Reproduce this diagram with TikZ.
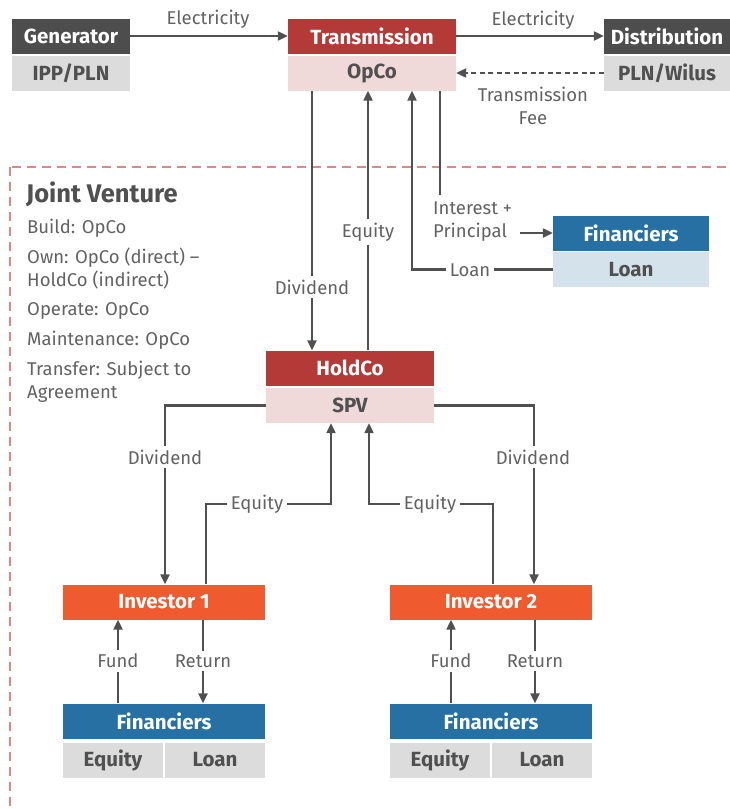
\documentclass[tikz,border=0pt]{standalone}
\usepackage{fontspec}
\setmainfont{Fira Sans}
\usetikzlibrary{arrows.meta,calc}

\definecolor{darkbox}{HTML}{4D4D4D}
\definecolor{lightbox}{HTML}{DCDCDC}
\definecolor{redbox}{HTML}{B43A38}
\definecolor{pinkbox}{HTML}{F0D9D9}
\definecolor{bluebox}{HTML}{2670A4}
\definecolor{paleblue}{HTML}{D4E2EC}
\definecolor{orangebox}{HTML}{EF5A2E}
\definecolor{ink}{HTML}{505050}
\definecolor{labelink}{HTML}{626262}
\definecolor{jvdash}{HTML}{D98A87}

\tikzset{
  box/.style={rectangle, inner sep=0pt, minimum height=35pt,
    font=\bfseries\fontsize{20.5}{22}\selectfont},
  hdr/.style={box, text=white},
  sub/.style={box, text=ink},
  lbl/.style={font=\fontsize{18.5}{23}\selectfont, text=labelink,
    fill=white, inner sep=3.5pt},
  freelbl/.style={font=\fontsize{18.5}{23}\selectfont, text=labelink,
    inner sep=0pt},
  link/.style={draw=ink, line width=2.2pt},
  flow/.style={link, -{Triangle[length=10pt,width=9pt]}},
}

\begin{document}
\begin{tikzpicture}[x=1pt,y=-1pt]
\useasboundingbox (0,0) rectangle (730,809);
\clip (0,0) rectangle (730,809);

% joint venture frame
\draw[jvdash, line width=1.3pt, dash pattern=on 9pt off 6pt] (10,167) rectangle (760,840);

% top row
\node[hdr, fill=darkbox, minimum width=118pt] (gen) at (71,36) {Generator};
\node[sub, fill=lightbox, minimum width=118pt] (genSub) at (71,73) {IPP/PLN};
\node[hdr, fill=redbox, minimum width=168pt] (trans) at (372,36) {Transmission};
\node[sub, fill=pinkbox, minimum width=168pt] (opco) at (372,73) {OpCo};
\node[hdr, fill=darkbox, minimum width=126pt] (dist) at (667,36) {Distribution};
\node[sub, fill=lightbox, minimum width=126pt] (distSub) at (667,73) {PLN/Wilus};

% lender to the operating company
\node[hdr, fill=bluebox, minimum width=156pt] (finR) at (631,233) {Financiers};
\node[sub, fill=paleblue, minimum width=156pt] (loanR) at (631,269.5) {Loan};

% holding company
\node[hdr, fill=redbox, minimum width=168pt] (holdco) at (350,368) {HoldCo};
\node[sub, fill=pinkbox, minimum width=168pt] (spv) at (350,405.5) {SPV};

% investors and their financiers
\node[hdr, fill=orangebox, minimum width=202pt] (inv1) at (164,602) {Investor 1};
\node[hdr, fill=bluebox, minimum width=202pt] (fin1) at (164,721) {Financiers};
\node[sub, fill=lightbox, minimum width=100pt] (eq1) at (113,760) {Equity};
\node[sub, fill=lightbox, minimum width=100pt] (loan1) at (215,760) {Loan};

\node[hdr, fill=orangebox, minimum width=202pt] (inv2) at (491,602) {Investor 2};
\node[hdr, fill=bluebox, minimum width=202pt] (fin2) at (491,721) {Financiers};
\node[sub, fill=lightbox, minimum width=100pt] (eq2) at (440,760) {Equity};
\node[sub, fill=lightbox, minimum width=100pt] (loan2) at (542,760) {Loan};

% joint venture notes
\node[anchor=west, inner sep=0pt, text=ink,
  font=\bfseries\fontsize{25.5}{28}\selectfont] (jvtitle) at (26,194) {Joint Venture};
\node[anchor=north west, inner sep=0pt, align=left, text=labelink,
  font=\fontsize{18.5}{23}\selectfont] (jvlist) at (27,219)
  {Build: OpCo\\[7pt]
   Own: OpCo (direct) --\\
   HoldCo (indirect)\\[6pt]
   Operate: OpCo\\[7pt]
   Maintenance: OpCo\\[7pt]
   Transfer: Subject to\\
   Agreement};

% electricity and fees
\draw[flow] (gen) -- (trans);
\node[freelbl] (elec1) at (208,19) {Electricity};
\draw[flow] (trans) -- (dist);
\node[freelbl] (elec2) at (533,20) {Electricity};
\draw[flow, dash pattern=on 5pt off 3.5pt] (distSub.west) -- (opco.east);
\node[freelbl, align=center] (fee) at (533,106) {Transmission\\Fee};

% operating company and holding company
\draw[flow] ([xshift=-60pt]opco.south) -- ([xshift=-38pt]holdco.north);
\node[lbl] (div0) at (312,287) {Dividend};
\draw[flow] ([xshift=18pt]holdco.north) -- ([xshift=-4pt]opco.south);
\node[lbl] (eq0) at (368,232) {Equity};

% operating company and its lender
\node[freelbl, anchor=west, align=left, inner ysep=7pt] (ip) at (433,222) {Interest +\\Principal};
\draw[link] ([xshift=68pt]opco.south) -- ([xshift=68pt]opco.south |- ip.north);
\draw[flow] ($(ip.east |- finR.west)+(8,0)$) -- (finR.west);
\draw[flow] (loanR.west) -| ([xshift=40pt]opco.south);
\node[lbl] (loanLbl) at (470,270) {Loan};

% holding company and investors
\draw[flow] (spv.west) -| ([xshift=1pt]inv1.north);
\node[lbl] (div1) at (165,457) {Dividend};
\draw[flow] (spv.east) -| ([xshift=43pt]inv2.north);
\node[lbl] (div2) at (533,457) {Dividend};
\draw[flow] ([xshift=42pt]inv1.north) |- (331,504) -- ([xshift=-19pt]spv.south);
\node[lbl] (eq1Lbl) at (257,504) {Equity};
\draw[flow] ([xshift=2pt]inv2.north) |- (369,504) -- ([xshift=19pt]spv.south);
\node[lbl] (eq2Lbl) at (430,504) {Equity};

% investors and their financiers
\draw[flow] ([xshift=-46pt]fin1.north) -- ([xshift=-46pt]inv1.south);
\node[lbl] (fund1) at (118,661) {Fund};
\draw[flow] ([xshift=39pt]inv1.south) -- ([xshift=39pt]fin1.north);
\node[lbl] (ret1) at (203,661) {Return};
\draw[flow] ([xshift=-40pt]fin2.north) -- ([xshift=-40pt]inv2.south);
\node[lbl] (fund2) at (451,661) {Fund};
\draw[flow] ([xshift=44pt]inv2.south) -- ([xshift=44pt]fin2.north);
\node[lbl] (ret2) at (535,661) {Return};
\end{tikzpicture}
\end{document}
